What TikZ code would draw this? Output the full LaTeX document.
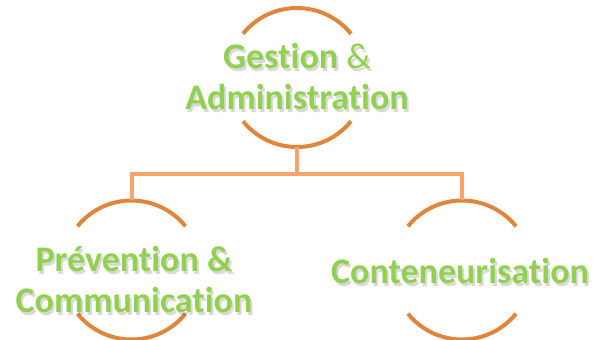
\documentclass[tikz,border=0pt]{standalone}
\usepackage{fontspec}
\setmainfont{Carlito}[Ligatures=NoCommon]
\definecolor{arcorange}{HTML}{E0863C}
\definecolor{lineorange}{HTML}{F7A56C}
\definecolor{txtgreen}{HTML}{92D050}
\begin{document}
\begin{tikzpicture}[x=1pt,y=1pt,
  ring/.style={arcorange, line width=4pt},
  conn/.style={lineorange, line width=4pt},
  hub/.style={circle, minimum size=139pt, inner sep=0pt},
  lbl/.style={font=\fontsize{36}{41}\selectfont\bfseries, text=txtgreen, align=center, inner sep=0pt},
  shd/.style={font=\fontsize{36}{41}\selectfont\bfseries, text=black, text opacity=0.15, align=center, inner sep=0pt}]
\useasboundingbox (0,0) rectangle (598,340);
% invisible circles
\node[hub] (gc) at (297,262.5) {};
\node[hub] (pc) at (131.5,70) {};
\node[hub] (cc) at (462,70) {};
\coordinate (bus) at (0,166);
% arcs
\foreach \c in {gc,pc,cc}{
  \draw[ring] ([shift={(39:69.5)}]\c.center) arc[start angle=39,end angle=141,radius=69.5];
  \draw[ring] ([shift={(-39:69.5)}]\c.center) arc[start angle=-39,end angle=-141,radius=69.5];
}
% connectors
\draw[conn] (gc.south) -- (gc.south |- bus) -| (pc.north);
\draw[conn] (gc.south |- bus) -| (cc.north);
% text shadows
\node[shd] (gts) at (299,260) {Gestion {\mdseries\&}\\Administration};
\node[shd] (pts) at (136,57) {Prévention \&\\Communication};
\node[shd] (cts) at (462,66) {Conteneurisation};
% texts
\node[lbl] (gt) at (297,263) {Gestion {\mdseries\&}\\Administration};
\node[lbl] (pt) at (134,60) {Prévention \&\\Communication};
\node[lbl] (ct) at (460,69) {Conteneurisation};
\end{tikzpicture}
\end{document}
